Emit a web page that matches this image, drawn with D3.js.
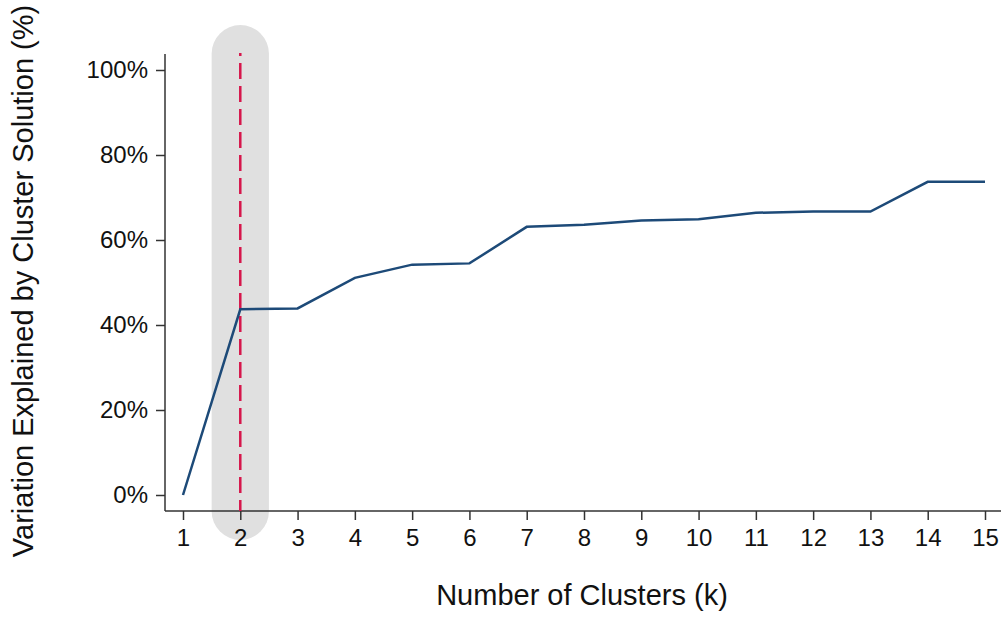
<!DOCTYPE html>
<html>
<head>
<meta charset="utf-8">
<script src="https://cdn.jsdelivr.net/npm/d3@7"></script>
<style>
  body { margin: 0; background: #fff; }
  text { font-family: 'Liberation Sans', Arial, sans-serif; fill: #111; }
</style>
</head>
<body>
<div id="chart"></div>
<script>
const clusters = [1, 2, 3, 4, 5, 6, 7, 8, 9, 10, 11, 12, 13, 14, 15];
const explained = [0, 43.7, 43.9, 51.1, 54.2, 54.5, 63.1, 63.6, 64.6, 64.9, 66.4, 66.7, 66.7, 73.7, 73.7];
const yTicks = [0, 20, 40, 60, 80, 100];
const chosenK = 2;

const width = 1008;
const height = 619;

const svg = d3
  .select('#chart')
  .append('svg')
  .attr('width', width)
  .attr('height', height);

const x = d3.scaleLinear().domain([1, 15]).range([183, 985]);
const y = d3.scaleLinear().domain([0, 100]).range([495, 70]);

const axisLeft = 165;
const axisBottom = 511;

// highlight band around chosen k
const bandW = x(2) - x(1);
svg
  .append('rect')
  .attr('x', x(chosenK) - bandW / 2)
  .attr('y', 25)
  .attr('width', bandW)
  .attr('height', 540 - 25)
  .attr('rx', bandW / 2)
  .attr('ry', bandW / 2)
  .style('fill', '#e0e0e0');

// y axis
const yAxis = svg
  .append('g')
  .attr('transform', `translate(${axisLeft},0)`)
  .call(
    d3
      .axisLeft(y)
      .tickValues(yTicks)
      .tickSize(9)
      .tickPadding(8)
      .tickFormat((d) => d + '%')
  );
yAxis.select('.domain').remove();
yAxis
  .append('line')
  .attr('y1', 54)
  .attr('y2', axisBottom)
  .style('stroke', '#333')
  .style('stroke-width', 1.5);
yAxis.selectAll('.tick line').style('stroke', '#333').style('stroke-width', 1.5);
yAxis
  .selectAll('.tick text')
  .style('font-size', '24px')
  .style('font-family', "'Liberation Sans', Arial, sans-serif")
  .style('fill', '#111');

// x axis
const xAxis = svg
  .append('g')
  .attr('transform', `translate(0,${axisBottom})`)
  .call(d3.axisBottom(x).tickValues(clusters).tickSize(9).tickPadding(9).tickFormat(d3.format('d')));
xAxis.select('.domain').remove();
xAxis
  .append('line')
  .attr('x1', axisLeft)
  .attr('x2', 1001)
  .style('stroke', '#333')
  .style('stroke-width', 1.5);
xAxis.selectAll('.tick line').style('stroke', '#333').style('stroke-width', 1.5);
xAxis
  .selectAll('.tick text')
  .style('font-size', '24px')
  .style('font-family', "'Liberation Sans', Arial, sans-serif")
  .style('fill', '#111');

// red dashed line at chosen k
svg
  .append('line')
  .attr('x1', x(chosenK))
  .attr('x2', x(chosenK))
  .attr('y1', 53)
  .attr('y2', axisBottom)
  .style('stroke', '#d6164b')
  .style('stroke-width', 2.5)
  .style('stroke-dasharray', '16,7')
  .style('stroke-dashoffset', 13);

// data line
const line = d3
  .line()
  .x((d, i) => x(clusters[i]))
  .y((d) => y(d));

svg
  .append('path')
  .datum(explained)
  .attr('d', line)
  .style('fill', 'none')
  .style('stroke', '#1d4a78')
  .style('stroke-width', 2.5);

// titles
svg
  .append('text')
  .attr('x', 582)
  .attr('y', 605)
  .attr('text-anchor', 'middle')
  .style('font-size', '29px')
  .text('Number of Clusters (k)');

svg
  .append('text')
  .attr('transform', 'translate(33,281) rotate(-90)')
  .attr('text-anchor', 'middle')
  .style('font-size', '29px')
  .text('Variation Explained by Cluster Solution (%)');
</script>
</body>
</html>
